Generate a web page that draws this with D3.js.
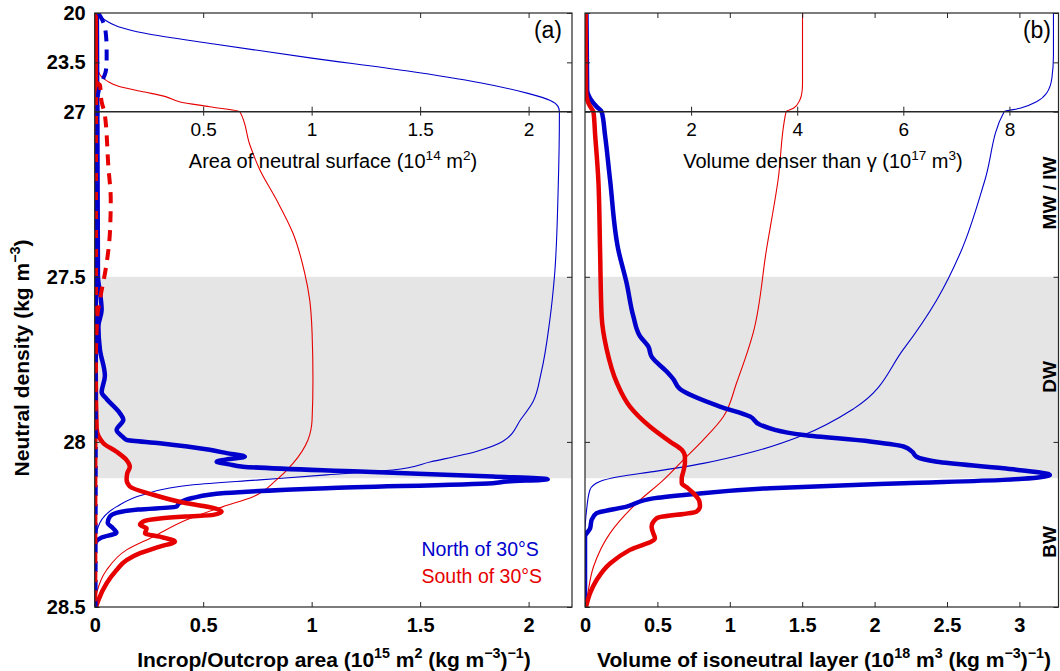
<!DOCTYPE html>
<html><head><meta charset="utf-8">
<script src="https://cdn.jsdelivr.net/npm/d3@7"></script>
<style>
html,body{margin:0;padding:0;background:#fff;}
svg{display:block;font-family:"Liberation Sans",Arial,Helvetica,sans-serif;}
</style></head>
<body><svg id="chart" width="1060" height="671"></svg>
<script>
// ---------- DATA (density [kg m-3], value) ----------
// Panel (a): area of neutral surface (top axis, 1e14 m2)
const aAreaNorth = [[20,0.017],[20.5,0.047],[20.97,0.109],[21.44,0.232],[22.2,0.55],[23.2,1.0],[24.1,1.436],[24.95,1.776],[25.7,1.997],[26.2,2.1],[26.64,2.136],[27,2.142],[27.24,2.136],[27.5,2.119],[27.64,2.096],[27.79,2.058],[27.88,2.019],[27.93,1.966],[27.999,1.88],[28.029,1.759],[28.06,1.55],[28.085,1.373],[28.1,1.068],[28.115,0.761],[28.13,0.454],[28.16,0.224],[28.196,0.101],[28.245,0.024],[28.297,0.005],[28.5,0]];
const aAreaSouth = [[20,0],[23.8,0.0],[24.0,0.012],[24.5,0.03],[24.85,0.06],[25.2,0.11],[25.6,0.23],[25.95,0.33],[26.29,0.39],[26.65,0.53],[27,0.669],[27.1,0.715],[27.176,0.761],[27.267,0.838],[27.368,0.914],[27.489,0.968],[27.57,0.991],[27.67,1.002],[27.81,1.006],[27.933,1.002],[27.994,0.983],[28.065,0.914],[28.115,0.838],[28.166,0.73],[28.196,0.592],[28.236,0.424],[28.287,0.27],[28.327,0.147],[28.388,0.055],[28.458,0.009],[28.5,0]];
// Panel (a): incrop/outcrop area (bottom axis, 1e15 m2 per kg m-3)
const aIncropNorth = [[20,0.01],[27,0.012],[27.5,0.015],[27.55,0.025],[27.6,0.032],[27.65,0.017],[27.72,0.024],[27.8,0.047],[27.85,0.032],[27.87,0.055],[27.913,0.116],[27.933,0.132],[27.964,0.101],[27.985,0.13],[27.994,0.147],[28.004,0.3],[28.024,0.53],[28.034,0.608],[28.045,0.692],[28.052,0.62],[28.06,0.562],[28.068,0.62],[28.075,0.684],[28.09,1.221],[28.105,1.835],[28.113,2.088],[28.12,1.9],[28.125,1.834],[28.14,1.068],[28.155,0.6],[28.17,0.45],[28.185,0.39],[28.196,0.377],[28.205,0.2],[28.215,0.1],[28.226,0.07],[28.245,0.06],[28.262,0.085],[28.275,0.1],[28.29,0.03],[28.3,0.008],[28.31,0],[28.5,0]];
const aIncropSouth = [[20,0.005],[27.8,0.005],[27.96,0.009],[28.004,0.04],[28.03,0.101],[28.055,0.147],[28.075,0.162],[28.095,0.15],[28.115,0.147],[28.135,0.162],[28.16,0.27],[28.186,0.424],[28.2,0.546],[28.211,0.585],[28.221,0.546],[28.226,0.42],[28.232,0.3],[28.241,0.224],[28.251,0.209],[28.262,0.239],[28.277,0.232],[28.287,0.3],[28.302,0.37],[28.317,0.3],[28.337,0.209],[28.358,0.147],[28.388,0.101],[28.428,0.055],[28.479,0.017],[28.5,0.006]];
const aDashNorth = [[20,0.017],[20.5,0.035],[21.3,0.05],[22.5,0.055],[23.5,0.055],[24.2,0.05],[24.8,0.035],[25.4,0.02],[25.8,0.015],[26.5,0.012],[27,0.012],[27.3,0.008],[28.5,0.004]];
const aDashSouth = [[24.9,0.0],[25.1,0.024],[26.3,0.032],[26.75,0.04],[27.0,0.045],[27.166,0.063],[27.267,0.074],[27.368,0.07],[27.459,0.055],[27.57,0.024],[27.62,0.012],[27.8,0.004],[28.5,0.003]];
// Panel (b): volume denser than gamma (top axis, 1e17 m3)
const bVolNorth = [[20,8.83],[22.98,8.83],[24.63,8.80],[25.69,8.70],[26.29,8.51],[26.76,8.20],[27,7.9],[27.206,7.54],[27.418,7.1],[27.57,6.63],[27.72,6.0],[27.9,5.06],[27.979,4.12],[28.03,3.17],[28.065,2.23],[28.09,1.29],[28.105,0.66],[28.12,0.28],[28.145,0.094],[28.206,0.03],[28.276,0],[28.5,0]];
const bVolSouth = [[20,4.1],[25.0,4.1],[25.6,4.09],[26.17,4.05],[26.76,3.93],[27,3.79],[27.206,3.64],[27.418,3.42],[27.67,3.17],[27.82,2.86],[27.923,2.61],[27.994,2.23],[28.055,1.85],[28.115,1.48],[28.186,0.97],[28.277,0.47],[28.378,0.16],[28.479,0.03],[28.5,0]];
// Panel (b): volume of isoneutral layer (bottom axis, 1e18 m3 per kg m-3)
const bLayerNorth = [[20,0.01],[25.5,0.015],[26.05,0.035],[26.64,0.08],[27,0.115],[27.07,0.138],[27.206,0.173],[27.418,0.23],[27.52,0.288],[27.62,0.334],[27.68,0.38],[27.711,0.437],[27.742,0.46],[27.787,0.564],[27.81,0.61],[27.84,0.656],[27.893,0.932],[27.923,1.14],[27.948,1.209],[27.979,1.51],[27.999,1.97],[28.014,2.2],[28.03,2.26],[28.045,2.29],[28.06,2.43],[28.08,2.89],[28.1,3.21],[28.115,2.89],[28.125,2.2],[28.14,1.28],[28.16,0.70],[28.171,0.47],[28.196,0.288],[28.216,0.08],[28.236,0.046],[28.262,0.035],[28.287,0],[28.5,0]];
const bLayerSouth = [[20,0.005],[25.5,0.007],[26.3,0.02],[26.7,0.04],[27,0.058],[27.07,0.07],[27.206,0.092],[27.418,0.104],[27.62,0.115],[27.72,0.15],[27.82,0.219],[27.893,0.31],[27.954,0.45],[27.999,0.587],[28.024,0.668],[28.045,0.69],[28.065,0.69],[28.09,0.679],[28.11,0.668],[28.125,0.668],[28.14,0.71],[28.155,0.748],[28.18,0.79],[28.196,0.794],[28.211,0.77],[28.231,0.495],[28.257,0.46],[28.275,0.47],[28.292,0.483],[28.327,0.31],[28.368,0.173],[28.418,0.08],[28.458,0.035],[28.5,0.007]];
// Axes
const yTicks = [20,23.5,27,27.5,28,28.5];
const aBottomTicks = [0,0.5,1,1.5,2];
const aTopTicks = [0.5,1,1.5,2];
const bBottomTicks = [0,0.5,1,1.5,2,2.5,3];
const bTopTicks = [2,4,6,8];
const band = [27.5,28.11];
const waterMasses = ["MW / IW","DW","BW"];
const legendItems = [["North of 30°S","north"],["South of 30°S","south"]];

// ---------- LAYOUT ----------
const BLUE="#0000cc", RED="#e60000", AX="#262626";
const wmY = {"MW / IW":193,"DW":377,"BW":542};
const svg = d3.select("#chart");
const yTop=13, y27=111.7, yBot=607;
const y = d3.scaleLinear().domain([20,27,28.5]).range([yTop,y27,yBot]);
const A={x0:94.7,x1:572}, B={x0:585,x1:1058.5};
const xa = d3.scaleLinear().domain([0,2.2]).range([A.x0,A.x1]);
const xaTop = d3.scaleLinear().domain([0,2.2]).range([A.x0,A.x1]);
const xb = d3.scaleLinear().domain([0,3.27]).range([B.x0,B.x1]);
const xbTop = d3.scaleLinear().domain([0,8.925]).range([B.x0,B.x1]);

function rich(sel, parts, fs){
  let shift=0;
  parts.forEach(p=>{
    const sup = Array.isArray(p);
    const t = sup?p[0]:p;
    const ts = sel.append("tspan").text(t);
    if(sup){ ts.attr("font-size",fs*0.68).attr("dy",-fs*0.42-shift); shift=-fs*0.42; }
    else if(shift!==0){ ts.attr("dy",-shift); shift=0; }
  });
  return sel;
}

svg.append("defs").selectAll("clipPath").data([["ca",A],["cb",B]]).join("clipPath")
  .attr("id",d=>d[0]).append("rect")
  .attr("x",d=>d[1].x0).attr("y",yTop).attr("width",d=>d[1].x1-d[1].x0).attr("height",yBot-yTop);

// band
[A,B].forEach(P=>{
  svg.append("rect").attr("x",P.x0).attr("width",P.x1-P.x0)
    .attr("y",y(band[0])).attr("height",y(band[1])-y(band[0])).attr("fill","#e5e5e5");
});

function drawLine(xs, data, color, w, clip, dash){
  const ln = d3.line().x(d=>xs(d[1])).y(d=>y(d[0])).curve(d3.curveMonotoneY);
  svg.append("path").attr("d",ln(data)).attr("fill","none").attr("stroke",color)
    .attr("stroke-width",w).attr("clip-path",`url(#${clip})`)
    .attr("stroke-linejoin","round").attr("stroke-dasharray",dash||null);
}
// panel a
drawLine(xaTop,aAreaNorth,BLUE,1.1,"ca");
drawLine(xaTop,aAreaSouth,RED,1.1,"ca");
drawLine(xa,aIncropNorth,BLUE,4.5,"ca");
drawLine(xa,aIncropSouth,RED,4.5,"ca");
drawLine(xa,aDashNorth,BLUE,4,"ca","11,8");
drawLine(xa,aDashSouth,RED,4,"ca","11,8");
// panel b
drawLine(xbTop,bVolNorth,BLUE,1.1,"cb");
drawLine(xbTop,bVolSouth,RED,1.1,"cb");
drawLine(xb,bLayerNorth,BLUE,4.5,"cb");
drawLine(xb,bLayerSouth,RED,4.5,"cb");

// axes
function styleAxis(g){ g.select(".domain").remove(); g.selectAll("line").attr("stroke",AX); }
function panelAxes(P, xs, xsTop, bTicks, tTicks, showY){
  const gb = svg.append("g").attr("transform",`translate(0,${yBot})`)
    .call(d3.axisBottom(xs).tickValues(bTicks).tickSizeInner(-5).tickSizeOuter(0).tickPadding(11).tickFormat(d=>String(d)));
  styleAxis(gb);
  gb.selectAll("text").attr("font-size",20).attr("font-weight","bold").attr("fill","#000");
  const gt = svg.append("g").attr("transform",`translate(0,${yTop})`)
    .call(d3.axisTop(xs).tickValues(bTicks.filter(v=>v>0)).tickSizeInner(-5).tickSizeOuter(0).tickFormat(""));
  styleAxis(gt);
  const gm = svg.append("g").attr("transform",`translate(0,${y27})`)
    .call(d3.axisBottom(xsTop).tickValues(tTicks).tickSizeInner(4).tickSizeOuter(0).tickPadding(7).tickFormat(d=>String(d)));
  styleAxis(gm);
  gm.selectAll("line").attr("y1",-5);
  gm.selectAll("text").attr("font-size",19).attr("fill","#000");
  const gl = svg.append("g").attr("transform",`translate(${P.x0},0)`)
    .call(d3.axisLeft(y).tickValues(yTicks).tickSizeInner(-5).tickSizeOuter(0).tickPadding(9).tickFormat(showY?(d=>String(d)):""));
  styleAxis(gl);
  gl.selectAll("text").attr("font-size",20).attr("font-weight","bold").attr("fill","#000");
  const gr = svg.append("g").attr("transform",`translate(${P.x1},0)`)
    .call(d3.axisRight(y).tickValues(yTicks).tickSizeInner(-5).tickSizeOuter(0).tickFormat(""));
  styleAxis(gr);
  svg.append("rect").attr("x",P.x0).attr("y",yTop).attr("width",P.x1-P.x0).attr("height",yBot-yTop)
    .attr("fill","none").attr("stroke",AX).attr("stroke-width",1.2);
  svg.append("line").attr("x1",P.x0).attr("x2",P.x1).attr("y1",y27).attr("y2",y27)
    .attr("stroke",AX).attr("stroke-width",1.4);
}
panelAxes(A,xa,xaTop,aBottomTicks,aTopTicks,true);
panelAxes(B,xb,xbTop,bBottomTicks,bTopTicks,false);

// titles
rich(svg.append("text").attr("x",334).attr("y",667).attr("text-anchor","middle")
  .attr("font-size",21).attr("font-weight","bold"),
  ["Incrop/Outcrop area  (10",["15"]," m",["2"]," (kg m",["−3"],")",["−1"],")"],21);
rich(svg.append("text").attr("x",824).attr("y",667).attr("text-anchor","middle")
  .attr("font-size",21).attr("font-weight","bold"),
  ["Volume of isoneutral layer (10",["18"]," m",["3"]," (kg m",["−3"],")",["−1"],")"],21);
rich(svg.append("text").attr("x",333).attr("y",168).attr("text-anchor","middle").attr("font-size",20),
  ["Area of neutral surface (10",["14"]," m",["2"],")"],20);
rich(svg.append("text").attr("x",823).attr("y",168).attr("text-anchor","middle").attr("font-size",20),
  ["Volume denser than γ (10",["17"]," m",["3"],")"],20);
rich(svg.append("text").attr("transform","translate(29,358) rotate(-90)").attr("text-anchor","middle")
  .attr("font-size",21).attr("font-weight","bold"),
  ["Neutral density (kg m",["−3"],")"],21);

svg.append("text").attr("x",562).attr("y",38).attr("text-anchor","end").attr("font-size",23).text("(a)");
svg.append("text").attr("x",1051).attr("y",38).attr("text-anchor","end").attr("font-size",23).text("(b)");

// water mass labels
svg.selectAll(".wm").data(waterMasses).join("text").attr("class","wm")
  .attr("transform",d=>`translate(1056,${wmY[d]}) rotate(-90)`)
  .attr("text-anchor","middle").attr("font-size",19).attr("font-weight","bold").text(d=>d);

// legend
svg.selectAll(".lg").data(legendItems).join("text").attr("class","lg")
  .attr("x",421.5).attr("y",(d,i)=>556+i*27).attr("font-size",19.5)
  .attr("fill",d=>d[1]==="north"?BLUE:RED).text(d=>d[0]);
</script></body></html>
